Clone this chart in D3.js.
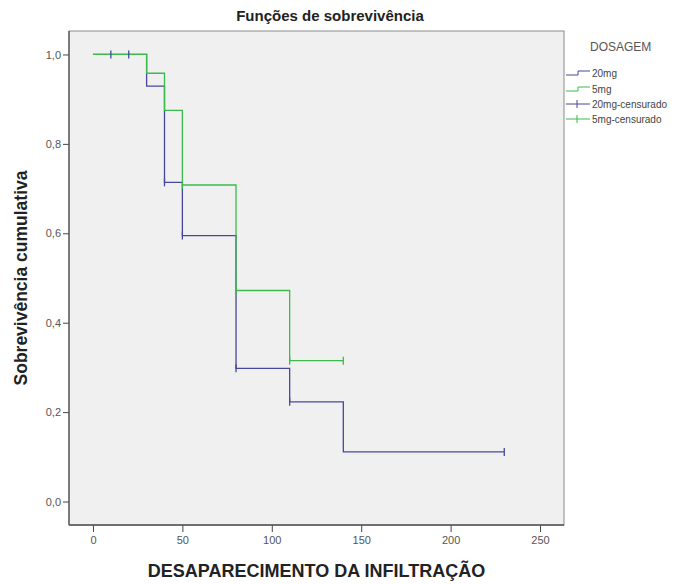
<!DOCTYPE html>
<html>
<head>
<meta charset="utf-8">
<script src="https://cdn.jsdelivr.net/npm/d3@7"></script>
<style>
  html, body { margin: 0; padding: 0; background: #fff; }
  svg { display: block; font-family: "Liberation Sans", Arial, sans-serif; }
</style>
</head>
<body>
<svg id="chart" width="696" height="584"></svg>
<script>
// ---- data ----
const seriesNames = ["20mg", "5mg"];
const times20 = [0, 30, 40, 50, 80, 110, 140, 230];
const surv20  = [1.0, 0.929, 0.714, 0.595, 0.298, 0.223, 0.111, 0.111];
const times5  = [0, 30, 40, 50, 80, 110, 140];
const surv5   = [1.0, 0.958, 0.875, 0.708, 0.472, 0.315, 0.315];
const cens20T = [10, 20, 40, 50, 80, 110, 230];
const cens20S = [1.0, 1.0, 0.714, 0.595, 0.298, 0.223, 0.111];
const cens5T  = [50, 80, 110, 140];
const cens5S  = [0.708, 0.472, 0.315, 0.315];
const xTicks = [0, 50, 100, 150, 200, 250];
const yTicks = [0, 0.2, 0.4, 0.6, 0.8, 1.0];
const legendLabels = ["20mg", "5mg", "20mg-censurado", "5mg-censurado"];
const titleText = "Funções de sobrevivência";
const xLabel = "DESAPARECIMENTO DA INFILTRAÇÃO";
const yLabel = "Sobrevivência cumulativa";
const legendTitle = "DOSAGEM";

// ---- layout ----
const colors = { "20mg": "#45489c", "5mg": "#3dba4c" };
const plot = { left: 69, right: 564, top: 31, bottom: 525 };
const svg = d3.select("#chart");

const x = d3.scaleLinear().domain([-13.4, 263.4]).range([plot.left, plot.right]);
const y = d3.scaleLinear().domain([-0.0525, 1.0525]).range([plot.bottom, plot.top]);

// background
svg.append("rect")
  .attr("x", plot.left).attr("y", plot.top)
  .attr("width", plot.right - plot.left).attr("height", plot.bottom - plot.top)
  .attr("fill", "#f0f0f0").attr("stroke", "#8a8a8a").attr("stroke-width", 1);

// axes
const fmt = d => d3.format(".1f")(d).replace(".", ",");
const yAxis = d3.axisLeft(y).tickValues(yTicks).tickFormat(fmt).tickSize(6).tickPadding(2);
const xAxis = d3.axisBottom(x).tickValues(xTicks).tickFormat(d3.format("d")).tickSize(7).tickPadding(4);

const gy = svg.append("g").attr("transform", `translate(${plot.left},0)`).call(yAxis);
const gx = svg.append("g").attr("transform", `translate(0,${plot.bottom})`).call(xAxis);
[gx, gy].forEach(g => {
  g.select(".domain").remove();
  g.selectAll(".tick line").attr("stroke", "#444");
  g.selectAll(".tick text").attr("fill", "#555").style("font-size", "11px")
    .style("font-family", "'Liberation Sans', Arial, sans-serif");
});
// axis lines
svg.append("line").attr("x1", plot.left).attr("x2", plot.left).attr("y1", plot.top).attr("y2", plot.bottom)
  .attr("stroke", "#555").attr("stroke-width", 1.3);
svg.append("line").attr("x1", plot.left).attr("x2", plot.right).attr("y1", plot.bottom).attr("y2", plot.bottom)
  .attr("stroke", "#555").attr("stroke-width", 1.3);

// step lines
const line = d3.line().x(d => x(d[0])).y(d => y(d[1])).curve(d3.curveStepAfter);
const series = [
  { name: "20mg", pts: d3.zip(times20, surv20), cens: d3.zip(cens20T, cens20S) },
  { name: "5mg",  pts: d3.zip(times5, surv5),   cens: d3.zip(cens5T, cens5S) }
];
series.forEach(s => {
  svg.append("path").datum(s.pts)
    .attr("d", line).attr("fill", "none")
    .attr("stroke", colors[s.name]).attr("stroke-width", 1.3);
});
series.forEach(s => {
  svg.append("g").selectAll("line").data(s.cens).join("line")
    .attr("x1", d => x(d[0])).attr("x2", d => x(d[0]))
    .attr("y1", d => y(d[1]) - 4).attr("y2", d => y(d[1]) + 4)
    .attr("stroke", colors[s.name]).attr("stroke-width", 1.3);
});

// title
svg.append("text").attr("x", 330).attr("y", 21).attr("text-anchor", "middle")
  .style("font-size", "15px").style("font-weight", "bold").attr("fill", "#222")
  .text(titleText);
// axis labels
svg.append("text").attr("x", (plot.left + plot.right) / 2).attr("y", 577).attr("text-anchor", "middle")
  .style("font-size", "18px").style("font-weight", "bold").attr("fill", "#222")
  .text(xLabel);
svg.append("text")
  .attr("transform", `translate(27,${(plot.top + plot.bottom) / 2}) rotate(-90)`)
  .attr("text-anchor", "middle")
  .style("font-size", "17.5px").style("font-weight", "bold").attr("fill", "#222")
  .text(yLabel);

// legend
svg.append("text").attr("x", 590).attr("y", 51)
  .style("font-size", "12px").attr("fill", "#555").text(legendTitle);
const legY = [73, 89, 104, 119];
const legColors = [colors["20mg"], colors["5mg"], colors["20mg"], colors["5mg"]];
legendLabels.forEach((lab, i) => {
  const ly = legY[i];
  if (i < 2) {
    svg.append("path").attr("d", `M566,${ly + 2}H578V${ly - 2}H590`)
      .attr("fill", "none").attr("stroke", legColors[i]).attr("stroke-width", 1);
  } else {
    svg.append("line").attr("x1", 566).attr("x2", 590).attr("y1", ly).attr("y2", ly)
      .attr("stroke", legColors[i]).attr("stroke-width", 1);
    svg.append("line").attr("x1", 577).attr("x2", 577).attr("y1", ly - 4).attr("y2", ly + 4)
      .attr("stroke", legColors[i]).attr("stroke-width", 1);
  }
  svg.append("text").attr("x", 592).attr("y", ly + 3.5)
    .style("font-size", "10px").attr("fill", "#444").text(lab);
});
</script>
</body>
</html>
